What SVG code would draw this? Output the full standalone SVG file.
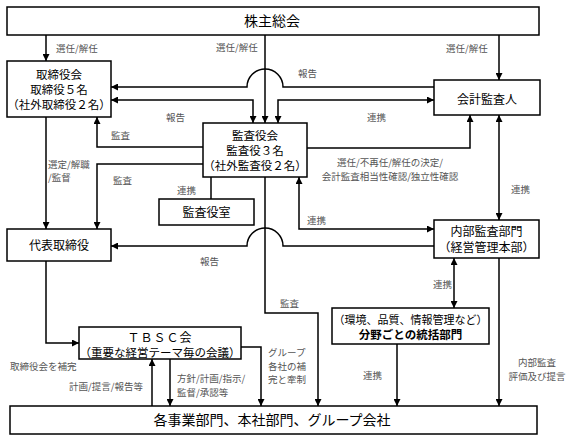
<svg xmlns="http://www.w3.org/2000/svg" width="571" height="442" viewBox="0 0 571 442">
<defs>
<marker id="a" viewBox="0 0 10 10" refX="10" refY="5" markerWidth="8" markerHeight="7" orient="auto-start-reverse" markerUnits="userSpaceOnUse"><path d="M0,0 L10,5 L0,10z" fill="#000"/></marker>
<style>
.b{fill:#fff;stroke:#000;stroke-width:1.5}
.t{font-family:"Noto Sans CJK JP","Noto Sans",sans-serif;font-size:12px;fill:#000;text-anchor:middle}
.m{font-size:11.5px}
.l{font-family:"Noto Sans CJK JP","Noto Sans",sans-serif;font-size:9.5px;fill:#555}
.c{fill:none;stroke:#000;stroke-width:1.5}
.e{marker-end:url(#a)}
.s{marker-start:url(#a)}
</style>
</defs>
<rect width="571" height="442" fill="#fff"/>
<g id="connectors">
<path class="c e" d="M46,35 V61"/>
<path class="c e" d="M265,35 V123"/>
<path class="c e" d="M499,35 V80"/>
<path class="c e" d="M434,87 H283 A18,18 0 0 0 247,87 H111"/>
<path class="c e s" d="M111,100 H253 V123"/>
<path class="c e s" d="M278,123 V100 H434"/>
<path class="c e" d="M307,148 H470 V115"/>
<path class="c e s" d="M499,115 V220"/>
<path class="c e s" d="M299,177 V229 H434"/>
<path class="c e" d="M434,246 H283 A18,18 0 0 0 247,246 H111"/>
<path class="c e" d="M46,117 V229"/>
<path class="c e" d="M203,147 H97 V117"/>
<path class="c e" d="M203,164 H97 V229"/>
<path class="c" d="M211,177 V199"/>
<path class="c e" d="M265,177 V313 H318 V406"/>
<path class="c e" d="M46,261 V343 H79"/>
<path class="c e" d="M152,406 V359"/>
<path class="c e" d="M170,359 V406"/>
<path class="c e" d="M241,347 H261 V406"/>
<path class="c e s" d="M454,258 V308"/>
<path class="c e" d="M397,344 V406"/>
<path class="c e" d="M499,258 V406"/>
</g>
<g id="labels">
<text class="l" x="56" y="52">選任/解任</text>
<text class="l" x="216" y="51">選任/解任</text>
<text class="l" x="446" y="52">選任/解任</text>
<text class="l" x="298" y="77">報告</text>
<text class="l" x="166" y="121">報告</text>
<text class="l" x="367" y="121">連携</text>
<text class="l" x="111" y="139">監査</text>
<text class="l" x="48" y="168">選定/解職</text>
<text class="l" x="48" y="181">/監督</text>
<text class="l" x="113" y="184">監査</text>
<text class="l" x="177" y="194">連携</text>
<text class="l" x="200" y="265">報告</text>
<text class="l" x="390" y="166" text-anchor="middle">選任/不再任/解任の決定/</text>
<text class="l" x="390" y="179.5" text-anchor="middle">会計監査相当性確認/独立性確認</text>
<text class="l" x="511" y="193">連携</text>
<text class="l" x="307" y="224">連携</text>
<text class="l" x="280" y="307">監査</text>
<text class="l" x="433" y="288">連携</text>
<text class="l" x="10" y="370">取締役会を補完</text>
<text class="l" x="69" y="390">計画/提言/報告等</text>
<text class="l" x="177" y="382">方針/計画/指示/</text>
<text class="l" x="177" y="395.5">監督/承認等</text>
<text class="l" x="268" y="356">グループ</text>
<text class="l" x="268" y="369.5">各社の補</text>
<text class="l" x="268" y="383">完と牽制</text>
<text class="l" x="363" y="379">連携</text>
<text class="l" x="537" y="366" text-anchor="middle">内部監査</text>
<text class="l" x="537" y="379.5" text-anchor="middle">評価及び提言</text>
</g>
<g id="shareholders">
<rect class="b" x="7" y="7" width="532" height="28"/>
<text class="t" x="272" y="26" style="font-size:14px">株主総会</text>
</g>
<g id="board">
<rect class="b" x="7" y="61" width="104" height="56"/>
<text class="t m" x="59" y="79.3">取締役会</text>
<text class="t m" x="59" y="94.3">取締役５名</text>
<text class="t m" x="59" y="109.3">（社外取締役２名）</text>
</g>
<g id="auditors">
<rect class="b" x="203" y="123" width="104" height="54"/>
<text class="t m" x="255" y="140.3">監査役会</text>
<text class="t m" x="255" y="155.3">監査役３名</text>
<text class="t m" x="255" y="170.3">（社外監査役２名）</text>
</g>
<g id="accounting-auditor">
<rect class="b" x="434" y="80" width="106" height="35"/>
<text class="t" x="487" y="103.5">会計監査人</text>
</g>
<g id="audit-office">
<rect class="b" x="159" y="199" width="95" height="26"/>
<text class="t" x="206.5" y="216.5">監査役室</text>
</g>
<g id="internal-audit">
<rect class="b" x="434" y="220" width="105" height="38"/>
<text class="t" x="486.5" y="235.5">内部監査部門</text>
<text class="t" x="486.5" y="251.5">（経営管理本部）</text>
</g>
<g id="ceo">
<rect class="b" x="7" y="229" width="104" height="32"/>
<text class="t" x="59" y="249.5">代表取締役</text>
</g>
<g id="tbsc">
<rect class="b" x="79" y="327" width="162" height="32"/>
<text class="t" x="160" y="341.5" style="letter-spacing:1px">ＴＢＳＣ会</text>
<text class="t" x="160" y="357" style="font-size:11.5px">（重要な経営テーマ毎の会議）</text>
</g>
<g id="divisions">
<rect class="b" x="332" y="308" width="157" height="36"/>
<text class="t" x="410.5" y="324" style="font-size:11px">（環境、品質、情報管理など）</text>
<text class="t" x="410.5" y="338.5" style="font-size:11.5px;font-weight:bold">分野ごとの統括部門</text>
</g>
<g id="business-units">
<rect class="b" x="10" y="406" width="527" height="28"/>
<text class="t" x="272" y="425" style="font-size:14px">各事業部門、本社部門、グループ会社</text>
</g>
</svg>
